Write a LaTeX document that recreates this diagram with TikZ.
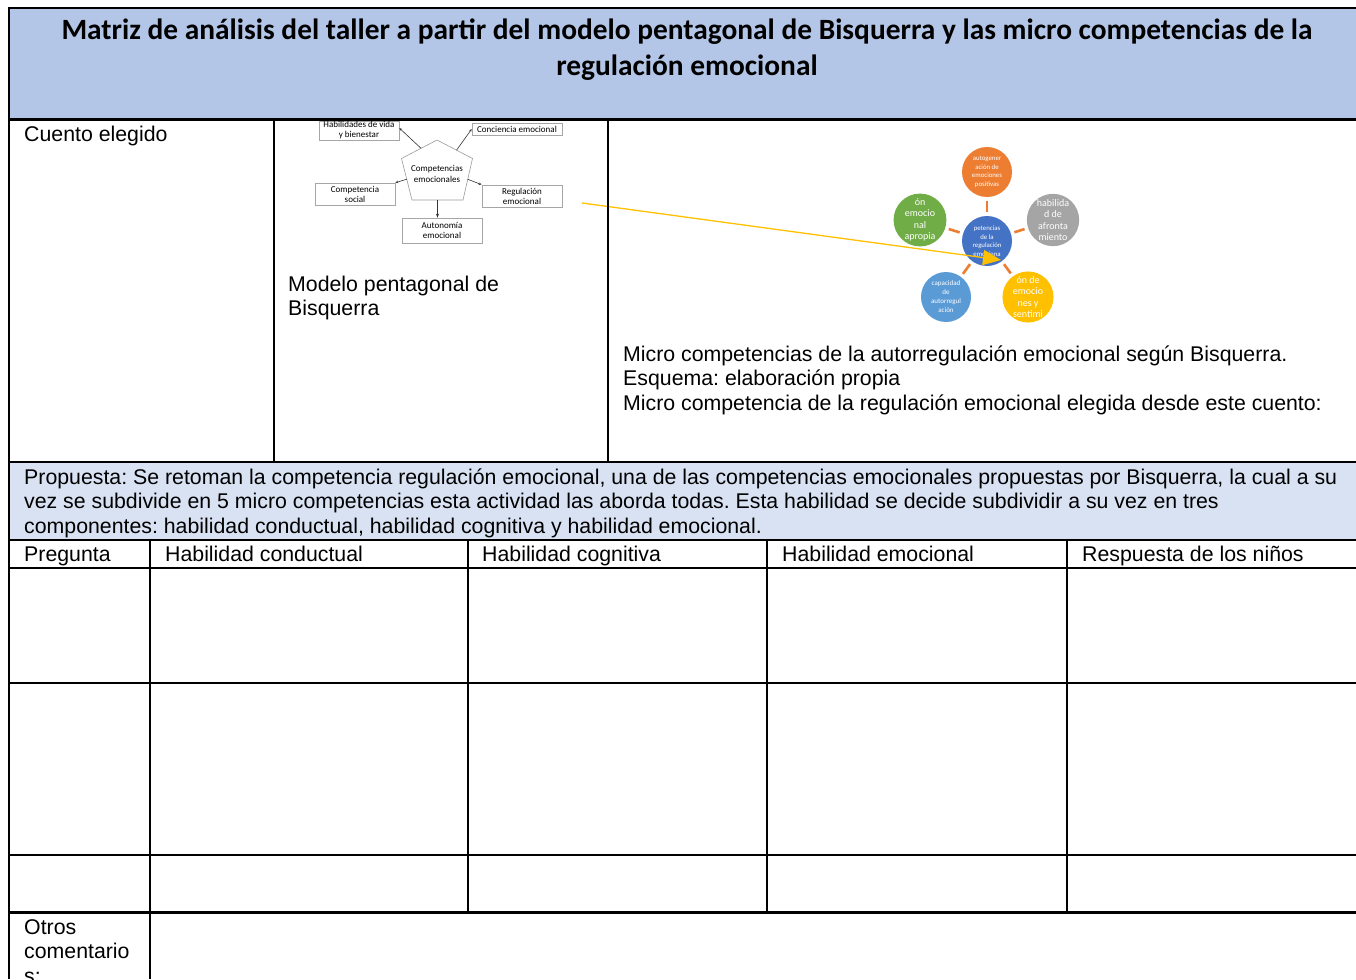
\documentclass[tikz,border=0pt]{standalone}
\usepackage{fontspec}
\setmainfont{Liberation Sans}
\newfontfamily\calfont{Carlito}
\usetikzlibrary{arrows.meta,shapes.geometric,calc}
\definecolor{headbg}{HTML}{B4C6E7}
\definecolor{propbg}{HTML}{D9E2F3}
\definecolor{corange}{HTML}{ED7D31}
\definecolor{cgreen}{HTML}{70AD47}
\definecolor{cgray}{HTML}{A5A5A5}
\definecolor{cblue}{HTML}{4472C4}
\definecolor{clblue}{HTML}{5B9BD5}
\definecolor{cyellow}{HTML}{FFC000}
\frenchspacing
\begin{document}
\begin{tikzpicture}[x=1pt,y=-1pt,
  rule/.style={line width=2.4pt},
  vrule/.style={line width=2pt},
  innerrule/.style={line width=1.5pt},
  txt/.style={anchor=base west, inner sep=0pt, font=\fontsize{21.3}{24.5}\selectfont},
  pbox/.style={draw=gray!70, line width=0.6pt, fill=white, inner sep=0pt, align=center,
    font=\calfont\fontsize{9}{10}\selectfont},
  pline/.style={draw=black!80, line width=0.6pt},
  circ/.style={circle, minimum size=50pt, inner sep=0pt, text=white, align=center},
  smallc/.style={font=\calfont\fontsize{6.8}{8.6}\selectfont},
  bigc/.style={font=\calfont\fontsize{10}{11.5}\selectfont},
  spoke/.style={draw=corange, line width=2.6pt, shorten <=3.5pt, shorten >=3.5pt}
]
\useasboundingbox (0,0) rectangle (1356,979);
\clip (0,0) rectangle (1356,979);

% backgrounds
\fill[headbg] (9,8) rectangle (1356,120);
\fill[propbg] (9,462) rectangle (1356,540);

% title
\node[font=\calfont\bfseries\fontsize{29.4}{36}\selectfont, align=center, inner sep=0pt] (title) at (687,49.5)
  {Matriz de análisis del taller a partir del modelo pentagonal de Bisquerra y las micro competencias de la\\regulación emocional};

% ---- pentagon diagram ----
\coordinate (pt) at (437,140);
\coordinate (pl) at (401.5,158.5);
\coordinate (pr) at (472.5,158.5);
\coordinate (pbl) at (412,200);
\coordinate (pbr) at (463,200);
\draw[draw=gray!80, line width=0.6pt] (pt) -- (pr) -- (pbr) -- (pbl) -- (pl) -- cycle;
\node[align=center, inner sep=0pt, font=\calfont\fontsize{9}{10.5}\selectfont] (pent) at (437,174) {Competencias\\emocionales};
\node[pbox, minimum width=80pt, minimum height=19pt] (habil) at (359,130.5) {Habilidades de vida\\y bienestar};
\node[pbox, minimum width=90pt, minimum height=12pt] (conc) at (517,129) {Conciencia emocional};
\node[pbox, minimum width=80pt, minimum height=22pt] (social) at (355,194) {Competencia\\social};
\node[pbox, minimum width=80pt, minimum height=22pt] (regul) at (522,196) {Regulación\\emocional};
\node[pbox, minimum width=80pt, minimum height=25pt] (auto) at (442,230.5) {Autonomía\\emocional};
\coordinate (p1) at ($(pt)!0.45!(pl)$);
\coordinate (p2) at ($(pt)!0.55!(pr)$);
\coordinate (p3) at ($(pl)!0.5!(pbl)$);
\coordinate (p4) at ($(pr)!0.5!(pbr)$);
\coordinate (p5) at ($(pbl)!0.5!(pbr)$);
\draw[pline, -{Stealth[length=3pt,width=2.5pt]}] (p1) -- (habil.east |- 0,128);
\draw[pline, -{Stealth[length=3pt,width=2.5pt]}] (p2) -- (conc.west);
\draw[pline, -{Stealth[length=3pt,width=2.5pt]}] (p3) -- (social.north east);
\draw[pline, -{Stealth[length=3pt,width=2.5pt]}] (p4) -- (regul.north west);
\draw[pline, -{Stealth[length=4pt,width=3pt]}] (p5) -- (p5 |- auto.north);

% ---- circles diagram ----
\node[circ, fill=cblue, smallc] (c0) at (987,241) {petencias\\de la\\regulación\\emociona};
\node[circ, fill=corange, smallc] (c1) at (987,172) {autogener\\ación de\\emociones\\positivas};
\node[circ, fill=cgreen, bigc] (c2) at (920,220) {ón\\emocio\\nal\\apropia};
\node[circ, fill=cgray, bigc] (c3) at (1053,220) {habilida\\d de\\afronta\\miento};
\node[circ, fill=clblue, font=\calfont\fontsize{7}{9}\selectfont] (c4) at (946,297) {capacidad\\de\\autorregul\\ación};
\node[circ, fill=cyellow, bigc] (c5) at (1028,297) {ón de\\emocio\\nes y\\sentimi};
\foreach \n in {c1,c2,c3,c4,c5} \draw[spoke] (c0) -- (\n);

% yellow arrow
\coordinate (arrS) at (582,203);
\coordinate (arrE) at (1001,260);
\draw[cyellow, line width=1.3pt, -{Triangle[length=18pt,width=15pt]}] (arrS) -- (arrE);

% ---- texts ----
\node[txt] (cuento) at (24,141) {Cuento elegido};
\node[txt] (modelo1) at (288,291) {Modelo pentagonal de};
\node[txt] (modelo2) at (288,315.5) {Bisquerra};
\node[txt] (micro1) at (623,361) {Micro competencias de la autorregulación emocional según Bisquerra.};
\node[txt] (micro2) at (623,385.5) {Esquema: elaboración propia};
\node[txt] (micro3) at (623,410) {Micro competencia de la regulación emocional elegida desde este cuento:};
\node[txt] (prop1) at (24,484) {Propuesta: Se retoman la competencia regulación emocional, una de las competencias emocionales propuestas por Bisquerra, la cual a su};
\node[txt] (prop2) at (24,508.5) {vez se subdivide en 5 micro competencias esta actividad las aborda todas. Esta habilidad se decide subdividir a su vez en tres};
\node[txt] (prop3) at (24,533) {componentes: habilidad conductual, habilidad cognitiva y habilidad emocional.};
\node[txt] (h1) at (24,561.5) {Pregunta};
\node[txt] (h2) at (165,561.5) {Habilidad conductual};
\node[txt] (h3) at (482,561.5) {Habilidad cognitiva};
\node[txt] (h4) at (782,561.5) {Habilidad emocional};
\node[txt] (h5) at (1082,561.5) {Respuesta de los niños};
\node[txt] (otros1) at (24,934) {Otros};
\node[txt] (otros2) at (24,958.5) {comentario};
\node[txt] (otros3) at (24,983) {s:};

% ---- table rules ----
\draw[rule] (9,8) -- (1356,8);
\draw[rule] (9,119.5) -- (1356,119.5);
\draw[rule] (9,462) -- (1356,462);
\draw[rule] (9,540) -- (1356,540);
\draw[rule] (9,568) -- (1356,568);
\draw[rule] (9,683) -- (1356,683);
\draw[rule] (9,855) -- (1356,855);
\draw[rule] (9,912.5) -- (1356,912.5);
\draw[vrule] (9,7) -- (9,979);
\draw[vrule] (274,120) -- (274,462);
\draw[vrule] (608,120) -- (608,462);
\draw[vrule] (150,540) -- (150,979);
\draw[innerrule] (468,540) -- (468,912);
\draw[innerrule] (767,540) -- (767,912);
\draw[innerrule] (1067,540) -- (1067,912);
\end{tikzpicture}
\end{document}
